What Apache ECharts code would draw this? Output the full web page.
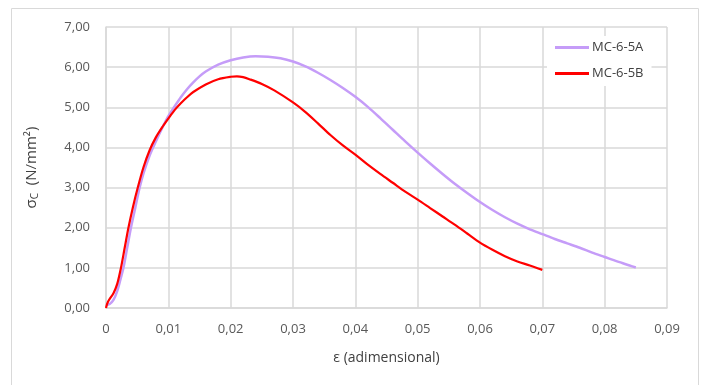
<!DOCTYPE html>
<html>
<head>
<meta charset="utf-8">
<script src="https://cdn.jsdelivr.net/npm/echarts@6/dist/echarts.min.js"></script>
<style>
  html, body { margin: 0; padding: 0; background: #fff; }
  #chart { width: 702px; height: 385px; }
</style>
</head>
<body>
<div id="chart"></div>
<script>
// MC-6-5A (lavender)
const epsA = [0, 0.0006, 0.0012, 0.0018, 0.0023, 0.0028, 0.0034, 0.004, 0.0047, 0.0054, 0.006, 0.007, 0.008, 0.009, 0.010,
  0.011, 0.012, 0.013, 0.014, 0.015, 0.016, 0.018, 0.020, 0.022, 0.024, 0.026, 0.028, 0.030, 0.032, 0.034, 0.036, 0.038, 0.040,
  0.042, 0.044, 0.046, 0.048, 0.050, 0.052, 0.054, 0.056, 0.058, 0.060, 0.062, 0.064, 0.066, 0.068, 0.070,
  0.072, 0.074, 0.076, 0.078, 0.080, 0.082, 0.084, 0.085]
const sigmaA = [0.08, 0.1, 0.2, 0.42, 0.7, 1.0, 1.5, 2.0, 2.5, 3.0, 3.35, 3.8, 4.15, 4.48, 4.78,
  5.02, 5.25, 5.45, 5.62, 5.77, 5.89, 6.06, 6.17, 6.24, 6.27, 6.26, 6.22, 6.14, 6.02, 5.86, 5.68, 5.48, 5.26,
  5.01, 4.73, 4.44, 4.15, 3.87, 3.6, 3.34, 3.09, 2.86, 2.64, 2.44, 2.26, 2.1, 1.96, 1.84,
  1.72, 1.61, 1.5, 1.38, 1.27, 1.16, 1.06, 1.01]

// MC-6-5B (red)
const epsB = [0, 0.0003, 0.0012, 0.0018, 0.0024, 0.003, 0.0036, 0.0043, 0.0051, 0.006, 0.007, 0.008, 0.009, 0.010,
  0.011, 0.012, 0.013, 0.014, 0.016, 0.018, 0.020, 0.021, 0.022, 0.023, 0.025, 0.027, 0.030, 0.032, 0.034, 0.036, 0.038, 0.040,
  0.042, 0.044, 0.046, 0.048, 0.050, 0.052, 0.054, 0.056, 0.058, 0.060, 0.062, 0.064, 0.066, 0.068, 0.070]
const sigmaB = [0, 0.15, 0.37, 0.6, 1.0, 1.5, 2.0, 2.5, 3.0, 3.5, 3.93, 4.25, 4.5, 4.72,
  4.93, 5.1, 5.25, 5.38, 5.57, 5.7, 5.76, 5.77, 5.75, 5.7, 5.58, 5.42, 5.12, 4.88, 4.6, 4.31, 4.05, 3.82,
  3.57, 3.34, 3.12, 2.9, 2.7, 2.49, 2.28, 2.07, 1.85, 1.63, 1.45, 1.29, 1.16, 1.06, 0.95]

const seriesNames = ["MC-6-5A", "MC-6-5B"]

const zip = (xs, ys) => xs.map((x, i) => [x, ys[i]])
const comma = (v, d) => v.toFixed(d).replace(".", ",")

const chart = echarts.init(document.getElementById("chart"))
const labelFont = "'Open Sans', 'Noto Sans', sans-serif"

const option = {
  animation: false,
  graphic: [
    {
      type: "rect",
      shape: { x: 11.5, y: 8.5, width: 687, height: 400 },
      style: { fill: "none", stroke: "#d9d9d9", lineWidth: 1 },
      z: -1,
    },
  ],
  grid: {
    left: 106,
    right: 35,
    top: 27,
    bottom: 77,
  },
  legend: {
    orient: "vertical",
    left: 547,
    top: 36,
    padding: [5, 8, 6, 8],
    backgroundColor: "#fff",
    icon: "rect",
    itemWidth: 34,
    itemHeight: 3,
    itemGap: 13,
    textStyle: { fontSize: 13, color: "#404040", fontFamily: labelFont, padding: [0, 0, 0, -2] },
    data: seriesNames,
    z: 10,
  },
  xAxis: {
    type: "value",
    min: 0,
    max: 0.09,
    interval: 0.01,
    name: "ε (adimensional)",
    nameLocation: "middle",
    nameGap: 43,
    nameTextStyle: { fontSize: 14, color: "#404040", fontFamily: labelFont },
    axisLine: { show: true, lineStyle: { color: "#d9d9d9", width: 1.5 } },
    axisTick: { show: false },
    splitLine: { show: true, lineStyle: { color: "#d9d9d9", width: 1.5 } },
    axisLabel: {
      margin: 15,
      fontSize: 13,
      color: "#595959",
      fontFamily: labelFont,
      formatter: (v) => (v === 0 ? "0" : comma(v, 2)),
    },
  },
  yAxis: {
    type: "value",
    min: 0,
    max: 7,
    interval: 1,
    name: "{s|σ}{sub|C}{u|  (N/mm²)}",
    nameLocation: "middle",
    nameRotate: 90,
    nameGap: 66,
    nameTextStyle: {
      fontFamily: labelFont,
      color: "#404040",
      rich: {
        s: { fontSize: 15, color: "#404040", fontFamily: labelFont },
        sub: { fontSize: 10, color: "#404040", fontFamily: labelFont, verticalAlign: "bottom", padding: [6, 0, 0, 0] },
        u: { fontSize: 15, color: "#404040", fontFamily: labelFont },
      },
    },
    axisLine: { show: true, lineStyle: { color: "#d9d9d9", width: 1.5 } },
    axisTick: { show: false },
    splitLine: { show: true, lineStyle: { color: "#d9d9d9", width: 1.5 } },
    axisLabel: {
      margin: 16,
      fontSize: 13,
      color: "#595959",
      fontFamily: labelFont,
      formatter: (v) => comma(v, 2),
    },
  },
  series: [
    {
      name: seriesNames[0],
      type: "line",
      data: zip(epsA, sigmaA),
      symbol: "none",
      smooth: 0.3,
      lineStyle: { color: "#c59cf8", width: 2.5 },
      itemStyle: { color: "#c59cf8" },
    },
    {
      name: seriesNames[1],
      type: "line",
      data: zip(epsB, sigmaB),
      symbol: "none",
      smooth: 0.3,
      lineStyle: { color: "#ff0000", width: 2.2 },
      itemStyle: { color: "#ff0000" },
    },
  ],
}

chart.setOption(option)
</script>
</body>
</html>
